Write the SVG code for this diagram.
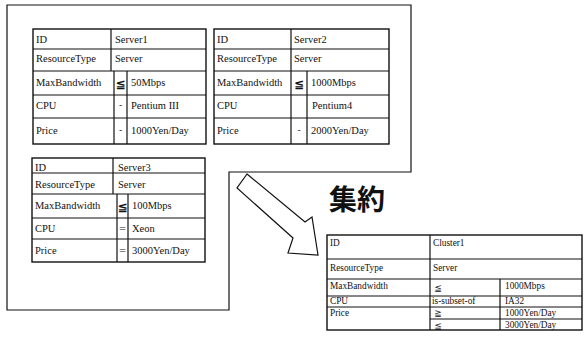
<svg xmlns="http://www.w3.org/2000/svg" width="586" height="361" viewBox="0 0 586 361">
<style>
.ln{stroke:#111;stroke-width:1.2;fill:none}
.bx{stroke:#111;stroke-width:1.4;fill:none}
.t{font-family:"Liberation Serif","DejaVu Serif",serif;font-size:10.5px;fill:#111}
.c{font-family:"Liberation Serif","DejaVu Serif",serif;font-size:9.3px;fill:#111}
.op{font-family:"DejaVu Sans","Noto Sans CJK JP",sans-serif;font-size:12px;font-weight:700;fill:#111;text-anchor:middle}
.sm{font-family:"DejaVu Sans","Noto Sans CJK JP",sans-serif;font-size:9px;fill:#111;text-anchor:middle}
.big{font-family:"Noto Sans CJK JP",sans-serif;font-size:28px;font-weight:700;fill:#111}
</style>
<rect width="586" height="361" fill="#fff"/>
<g id="frame"><path class="ln" d="M7,5 H411 V172 H229 V310 H7 Z"/></g>

<g id="server1">
<rect class="bx" x="33" y="29" width="173" height="115"/>
<path class="ln" d="M33,49 H206 M33,71 H206 M33,95 H206 M33,118 H206 M111,29 V71 M114,71 V144 M127,71 V144"/>
<text class="t" x="36" y="43">ID</text><text class="t" x="115" y="43">Server1</text>
<text class="t" x="36" y="62">ResourceType</text><text class="t" x="115" y="62">Server</text>
<text class="t" x="36" y="86">MaxBandwidth</text><text class="op" x="120.5" y="88">≦</text><text class="t" x="131" y="86">50Mbps</text>
<text class="t" x="36" y="109">CPU</text><text class="sm" x="120.5" y="108">-</text><text class="t" x="131" y="109">Pentium III</text>
<text class="t" x="36" y="134">Price</text><text class="sm" x="120.5" y="133" fill="#999">-</text><text class="t" x="131" y="134">1000Yen/Day</text>
</g>

<g id="server2">
<rect class="bx" x="214" y="29" width="175" height="115"/>
<path class="ln" d="M214,49 H389 M214,71 H389 M214,95 H389 M214,118 H389 M291,29 V71 M291,71 V144 M307,71 V144"/>
<text class="t" x="217" y="43">ID</text><text class="t" x="294" y="43">Server2</text>
<text class="t" x="217" y="62">ResourceType</text><text class="t" x="294" y="62">Server</text>
<text class="t" x="217" y="86">MaxBandwidth</text><text class="op" x="299" y="88">≦</text><text class="t" x="311" y="86">1000Mbps</text>
<text class="t" x="217" y="109">CPU</text><text class="t" x="312" y="109">Pentium4</text>
<text class="t" x="217" y="134">Price</text><text class="sm" x="299" y="133">-</text><text class="t" x="311" y="134">2000Yen/Day</text>
</g>

<g id="server3">
<rect class="bx" x="32" y="158" width="173" height="104"/>
<path class="ln" d="M32,173 H205 M32,194 H205 M32,218 H205 M32,239 H205 M113,158 V194 M117,194 V262 M128,194 V262"/>
<text class="t" x="35" y="171">ID</text><text class="t" x="118" y="171">Server3</text>
<text class="t" x="35" y="188">ResourceType</text><text class="t" x="118" y="188">Server</text>
<text class="t" x="35" y="209">MaxBandwidth</text><text class="op" x="122.5" y="211">≦</text><text class="t" x="132" y="209">100Mbps</text>
<text class="t" x="35" y="232">CPU</text><text class="sm" x="122.5" y="231">=</text><text class="t" x="132" y="232">Xeon</text>
<text class="t" x="35" y="254">Price</text><text class="sm" x="122.5" y="253">=</text><text class="t" x="132" y="254">3000Yen/Day</text>
</g>

<g id="connectors">
<path class="ln" d="M247,174 L305,222 L312,217 L318,255 L288,253 L293,238 L237,188 Z" fill="#fff"/>
</g>

<g id="label"><text class="big" x="329" y="210">集約</text></g>

<g id="cluster1">
<rect class="bx" x="327" y="235" width="255" height="95"/>
<path class="ln" d="M327,259 H582 M327,279 H582 M327,296 H582 M327,307 H582 M430,319 H582 M430,235 V330 M500,279 V330"/>
<text class="c" x="330" y="246">ID</text><text class="c" x="433" y="246">Cluster1</text>
<text class="c" x="330" y="271">ResourceType</text><text class="c" x="433" y="271">Server</text>
<text class="c" x="330" y="289">MaxBandwidth</text><text class="sm" x="438" y="291">≦</text><text class="c" x="505" y="289">1000Mbps</text>
<text class="c" x="330" y="304">CPU</text><text class="c" x="432" y="304">is-subset-of</text><text class="c" x="505" y="304">IA32</text>
<text class="c" x="330" y="316">Price</text><text class="sm" x="438" y="316" font-size="8">≧</text><text class="c" x="505" y="316">1000Yen/Day</text>
<text class="sm" x="438" y="328.5" font-size="8">≦</text><text class="c" x="505" y="328">3000Yen/Day</text>
</g>
</svg>
